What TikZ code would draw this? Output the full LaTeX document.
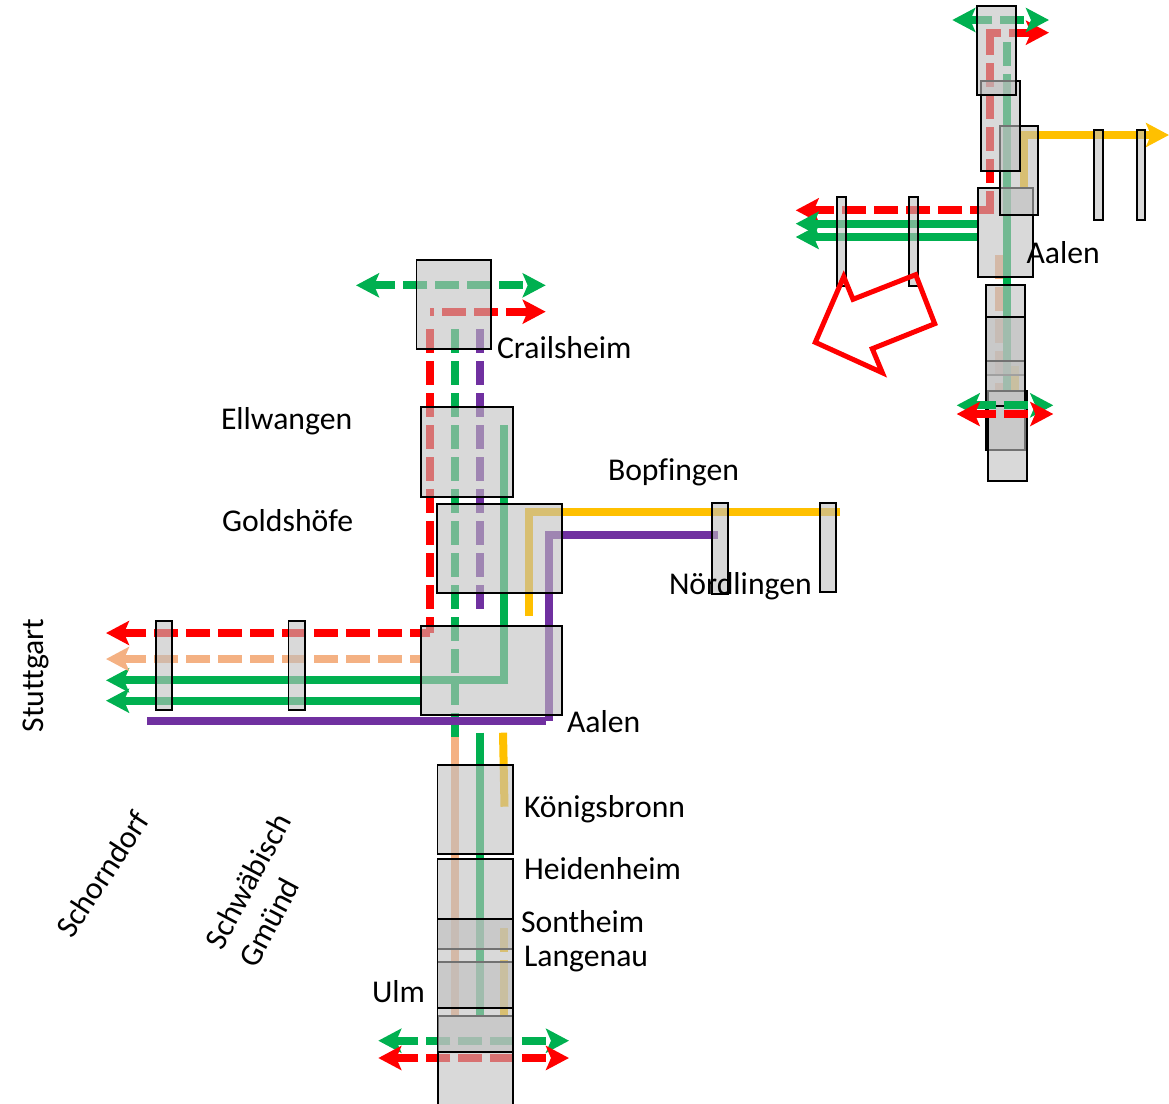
\documentclass[tikz,border=0pt]{standalone}
\usepackage{fontspec}
\setmainfont{Carlito}[Ligatures=CommonOff]
\usetikzlibrary{arrows.meta}
\definecolor{trred}{RGB}{255,0,0}
\definecolor{trgreen}{RGB}{0,176,80}
\definecolor{trpurple}{RGB}{112,48,160}
\definecolor{tryellow}{RGB}{255,192,0}
\definecolor{trpeach}{RGB}{244,177,131}
\definecolor{trgray}{RGB}{191,191,191}
\tikzset{
  trackline/.style={line width=8pt,line cap=butt,miter limit=10},
  dashline/.style={dash pattern=on 24pt off 8pt},
  endtip/.style={-{Stealth[length=23pt,width=24pt,inset=5pt]}},
  stopbox/.style={fill=trgray,fill opacity=.6,draw=black,draw opacity=1,line width=1.8pt},
  stoplabel/.style={anchor=base west,inner sep=0pt,text=black,font=\fontsize{31.7}{35}\selectfont},
  turnlabel/.style={inner sep=0pt,text=black,font=\fontsize{31.7}{38}\selectfont}
}
\begin{document}
\begin{tikzpicture}[x=1pt,y=-1pt,trackline]
  \useasboundingbox (0,0) rectangle (1169,1103);
  % lower left plan
  \draw[trred,dashline] (430,329) -- (430,633);
  \draw[trgreen,dashline] (455,329) -- (455,737);
  \draw[trpurple,dashline] (480,329) -- (480,609);
  \draw[trgreen] (504.3,425) -- (504.3,680.3);
  \draw[trgreen,endtip] (508.3,680.3) -- (106,680.3);
  \draw[trgreen,endtip] (421,700.7) -- (106,700.7);
  \draw[trred,dashline,dash phase=4pt,endtip] (430,633) -- (106,633);
  \draw[trpeach,dashline,dash phase=13pt,endtip] (421,659) -- (106,659);
  \draw[tryellow] (529,616) -- (529,512) -- (840,512);
  \draw[trpurple] (717.7,534.7) -- (549.3,534.7) -- (549.3,721);
  \draw[trpurple] (545.7,721) -- (147.3,721);
  \draw[trpeach] (454.7,737) -- (454.7,1015.3);
  \draw[trgreen] (479.7,732.7) -- (479.7,1015.3);
  \draw[tryellow] (503,732.7) -- (504.5,806.7);
  \draw[tryellow] (504.3,928) -- (504.3,952);
  \draw[tryellow] (504.3,960) -- (504.3,1015.3);
  % arrows through Crailsheim and Ulm
  \draw[trgreen,dashline,dash phase=24pt,endtip] (435,285.3) -- (356,285.3);
  \draw[trgreen,dashline,endtip] (435,285.3) -- (545.7,285.3);
  \draw[trred,dashline,dash phase=20pt,endtip] (430,311.7) -- (545.7,311.7);
  \draw[trgreen,dashline,dash phase=24pt,endtip] (458,1040.7) -- (378.3,1040.7);
  \draw[trgreen,dashline,endtip] (458,1040.7) -- (569,1040.7);
  \draw[trred,dashline,dash phase=24pt,endtip] (458,1058) -- (378.3,1058);
  \draw[trred,dashline,endtip] (458,1058) -- (569,1058);
  % stops of the lower left plan
  \foreach \xa/\ya/\xb/\yb in {416.5/260/491/349, 421/407.3/513/496.7, 437.3/504/562.3/593,
      421/625.7/562.3/714.7, 711.7/502.7/728.3/594, 819.7/502.7/836.3/591.7,
      156/620.7/172.3/710, 288.5/620.7/305.3/710, 437.5/764.7/513/854,
      437.5/859.3/513/948.7, 438.3/1016/513.3/1110, 437.5/962.3/513/1051.7, 437.5/919.3/513/1008}
    \draw[stopbox] (\xa,\ya) rectangle (\xb,\yb);
  % upper right plan
  \draw[trred,dashline] (990,31) -- (990,214);
  \draw[trred,dashline,endtip] (994,210.3) -- (795.7,210.3);
  \draw[trred,dashline,dash phase=9pt,endtip] (986,32.7) -- (1049,32.7);
  \draw[trgreen,dashline,dash phase=24pt,endtip] (1000,20) -- (952.3,20);
  \draw[trgreen,dashline,endtip] (1000,20) -- (1049,20);
  \draw[trgreen,dashline,dash phase=0pt] (1007,42) -- (1007,74);
  \draw[trgreen] (1007,74) -- (1007,391);
  \draw[trgreen,endtip] (977.7,223.7) -- (795.7,223.7);
  \draw[trgreen,endtip] (977.7,237) -- (795.7,237);
  \draw[tryellow,endtip] (1024,186.7) -- (1024,135) -- (1169,135);
  \draw[trpeach,dashline] (999,255) -- (999,391);
  \draw[tryellow] (1015.3,366) -- (1015.3,390);
  % stops of the upper right plan
  \foreach \xa/\ya/\xb/\yb in {977.7/188/1033.3/276.7, 1000/126/1038.3/215, 981.3/81.3/1019.7/170.7,
      977/6/1015.7/95.3, 837.3/197/846/286, 909.3/197/918/286, 1094.3/130.3/1103.3/220,
      1136.7/130.3/1145.3/220, 986.3/285.3/1024.7/374.7, 986.3/360.7/1024.7/450,
      988.3/391.3/1026.7/481, 986.3/317.3/1024.7/405.7}
    \draw[stopbox] (\xa,\ya) rectangle (\xb,\yb);
  \draw[trgreen,dashline,dash phase=24pt,endtip] (1004,405.3) -- (956.7,405.3);
  \draw[trgreen,dashline,endtip] (1004,405.3) -- (1053.3,405.3);
  \draw[trred,dashline,dash phase=24pt,endtip] (1004,414) -- (956.7,414);
  \draw[trred,dashline,endtip] (1004,414) -- (1053.3,414);
  \draw[trred,line width=5pt] (843.7,276.7) -- (853,299.3) -- (915.7,274.7) -- (934.7,323.7)
    -- (872.3,348.7) -- (882.3,372.7) -- (815.3,342.3) -- cycle;
  % labels
  \node[stoplabel] (crailsheim) at (493,358.8) {Crailsheim};
  \node[stoplabel] (ellwangen) at (217,429.8) {Ellwangen};
  \node[stoplabel] (goldshoefe) at (218,531.8) {Goldshöfe};
  \node[stoplabel] (bopfingen) at (604,480.8) {Bopfingen};
  \node[stoplabel] (noerdlingen) at (665,594.8) {Nördlingen};
  \node[stoplabel] (aalen) at (563,732.8) {Aalen};
  \node[stoplabel] (koenigsbronn) at (520,817.8) {Königsbronn};
  \node[stoplabel] (heidenheim) at (520,879.8) {Heidenheim};
  \node[stoplabel] (sontheim) at (517,932.8) {Sontheim};
  \node[stoplabel] (langenau) at (520,966.8) {Langenau};
  \node[stoplabel] (ulm) at (368,1002.8) {Ulm};
  \node[stoplabel] (aalenright) at (1022.5,263.8) {Aalen};
  \node[turnlabel,rotate=90] (stuttgart) at (35.5,675.5) {Stuttgart};
  \node[turnlabel,rotate=57] (schorndorf) at (102.5,874) {Schorndorf};
  \node[turnlabel,rotate=62,align=left] (gmuend) at (264.5,890) {Schwäbisch\\Gmünd};
\end{tikzpicture}
\end{document}
